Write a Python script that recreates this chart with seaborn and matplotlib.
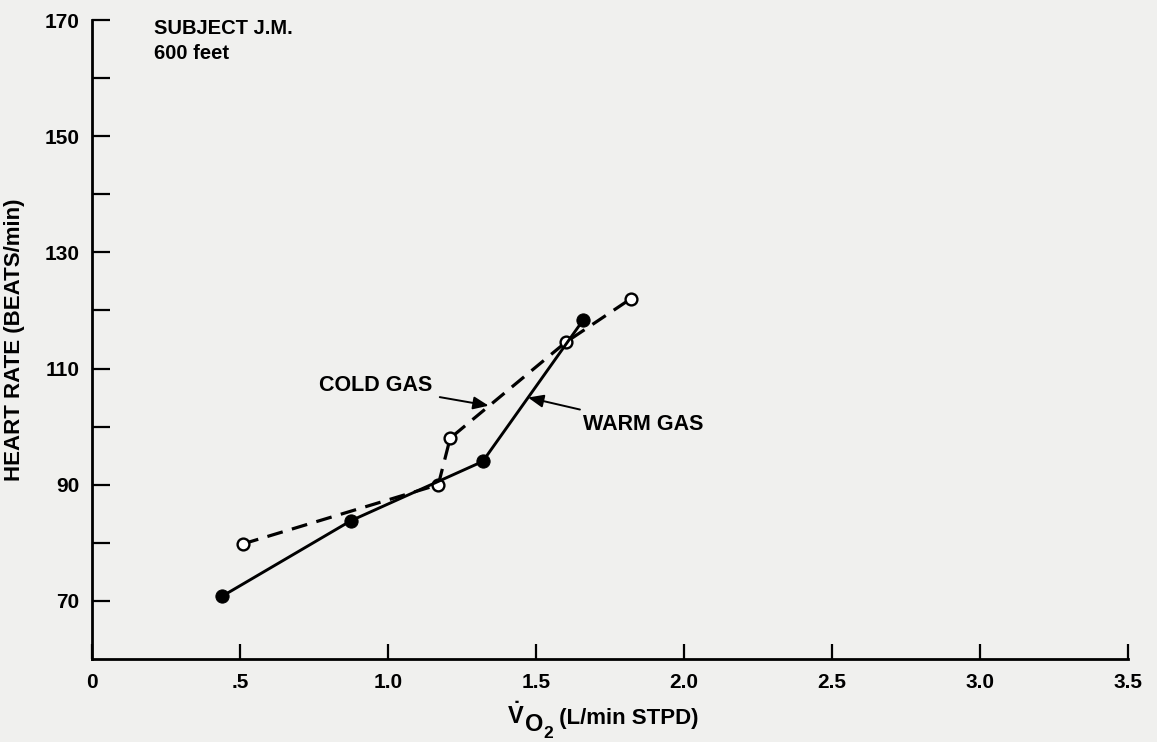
import matplotlib
matplotlib.use("Agg")
import matplotlib.pyplot as plt
import seaborn as sns
import pandas as pd

# Oxygen uptake (L/min STPD) vs heart rate (beats/min), subject J.M. at 600 feet
warm_vo2 = [0.44, 0.875, 1.32, 1.66]
warm_hr = [70.8, 83.8, 94.0, 118.4]

cold_vo2 = [0.51, 1.17, 1.21, 1.60, 1.82]
cold_hr = [79.8, 90.0, 98.0, 114.5, 122.0]

x_ticks = [0, 0.5, 1.0, 1.5, 2.0, 2.5, 3.0, 3.5]
x_tick_labels = ["0", ".5", "1.0", "1.5", "2.0", "2.5", "3.0", "3.5"]
y_major = [70, 90, 110, 130, 150, 170]
y_minor = [80, 100, 120, 140, 160]

sns.set_style("white")
plt.rcParams["font.family"] = ["Liberation Sans", "DejaVu Sans"]
plt.rcParams["font.weight"] = "bold"
plt.rcParams["text.color"] = "black"
plt.rcParams["axes.labelcolor"] = "black"
plt.rcParams["mathtext.fontset"] = "custom"
plt.rcParams["mathtext.rm"] = "Liberation Sans:bold"
plt.rcParams["mathtext.bf"] = "Liberation Sans:bold"

W, H = 1157, 742
bg = "#f0f0ee"
fig = plt.figure(figsize=(W / 100, H / 100), dpi=100, facecolor=bg)
ax = fig.add_axes([0.0795, 0.112, 0.8955, 0.861])
ax.set_facecolor(bg)

warm = pd.DataFrame({"vo2": warm_vo2, "hr": warm_hr})
cold = pd.DataFrame({"vo2": cold_vo2, "hr": cold_hr})

sns.lineplot(data=cold, x="vo2", y="hr", ax=ax, estimator=None, sort=False,
             color="black", linewidth=2.3, zorder=3,
             marker="o", markersize=8.5, markerfacecolor="white",
             markeredgecolor="black", markeredgewidth=1.7)
ax.lines[-1].set_dashes((5, 3))

sns.lineplot(data=warm, x="vo2", y="hr", ax=ax, estimator=None, sort=False,
             color="black", linewidth=2.1, zorder=4,
             marker="o", markersize=9.5, markerfacecolor="black",
             markeredgecolor="black")

ax.set_xlim(0, 3.5)
ax.set_ylim(60, 170)

ax.set_xticks(x_ticks)
ax.set_xticklabels(x_tick_labels)
ax.set_yticks(y_major)
ax.set_yticks(y_minor, minor=True)

ax.tick_params(axis="x", which="both", bottom=True, direction="in",
               length=11, width=1.6, pad=10, labelsize=15, colors="black")
ax.tick_params(axis="y", which="both", left=True, direction="in",
               length=13, width=1.6, pad=9, labelsize=15, colors="black")
for lbl in ax.get_xticklabels() + ax.get_yticklabels():
    lbl.set_fontweight("bold")

sns.despine(ax=ax)
for side in ("left", "bottom"):
    ax.spines[side].set_linewidth(2.0)
    ax.spines[side].set_color("black")

ax.set_ylabel("HEART RATE (BEATS/min)", fontsize=16, fontweight="bold",
              labelpad=14)
ax.set_xlabel("")

ax.text(0.21, 168.5, "SUBJECT J.M.", fontsize=14.5, fontweight="bold",
        ha="left", va="center")
ax.text(0.21, 164.2, "600 feet", fontsize=14.5, fontweight="bold",
        ha="left", va="center")

arrow = dict(arrowstyle="-|>,head_length=0.6,head_width=0.25", color="black",
             lw=1.4, shrinkA=3, shrinkB=0)
ax.annotate("COLD GAS", xy=(1.34, 103.6), xytext=(1.15, 107.0),
            fontsize=15.5, fontweight="bold", ha="right", va="center",
            arrowprops=arrow)
ax.annotate("WARM GAS", xy=(1.473, 105.0), xytext=(1.66, 100.4),
            fontsize=15.5, fontweight="bold", ha="left", va="center",
            arrowprops=arrow)

# x-axis title: V-dot with a lowered O and a subscript 2, built piece by piece
renderer = fig.canvas.get_renderer()
pieces = [
    (r"$\dot{\mathrm{V}}$", 17, 0),
    ("O", 17, -7),
    ("2", 12.5, -14),
    (" (L/min STPD)", 16, 0),
]
base_y = H - 724
drawn = []
x_cursor = 0.0
for txt, size, dy in pieces:
    t = fig.text(x_cursor / W, (base_y + dy) / H, txt, fontsize=size,
                 fontweight="bold", ha="left", va="baseline")
    bb = t.get_window_extent(renderer)
    drawn.append((t, x_cursor, dy))
    x_cursor += bb.width
centre = 603
start = centre - x_cursor / 2
for t, xoff, dy in drawn:
    t.set_position(((start + xoff) / W, (base_y + dy) / H))

fig.savefig("out.png", dpi=100, facecolor=bg)
